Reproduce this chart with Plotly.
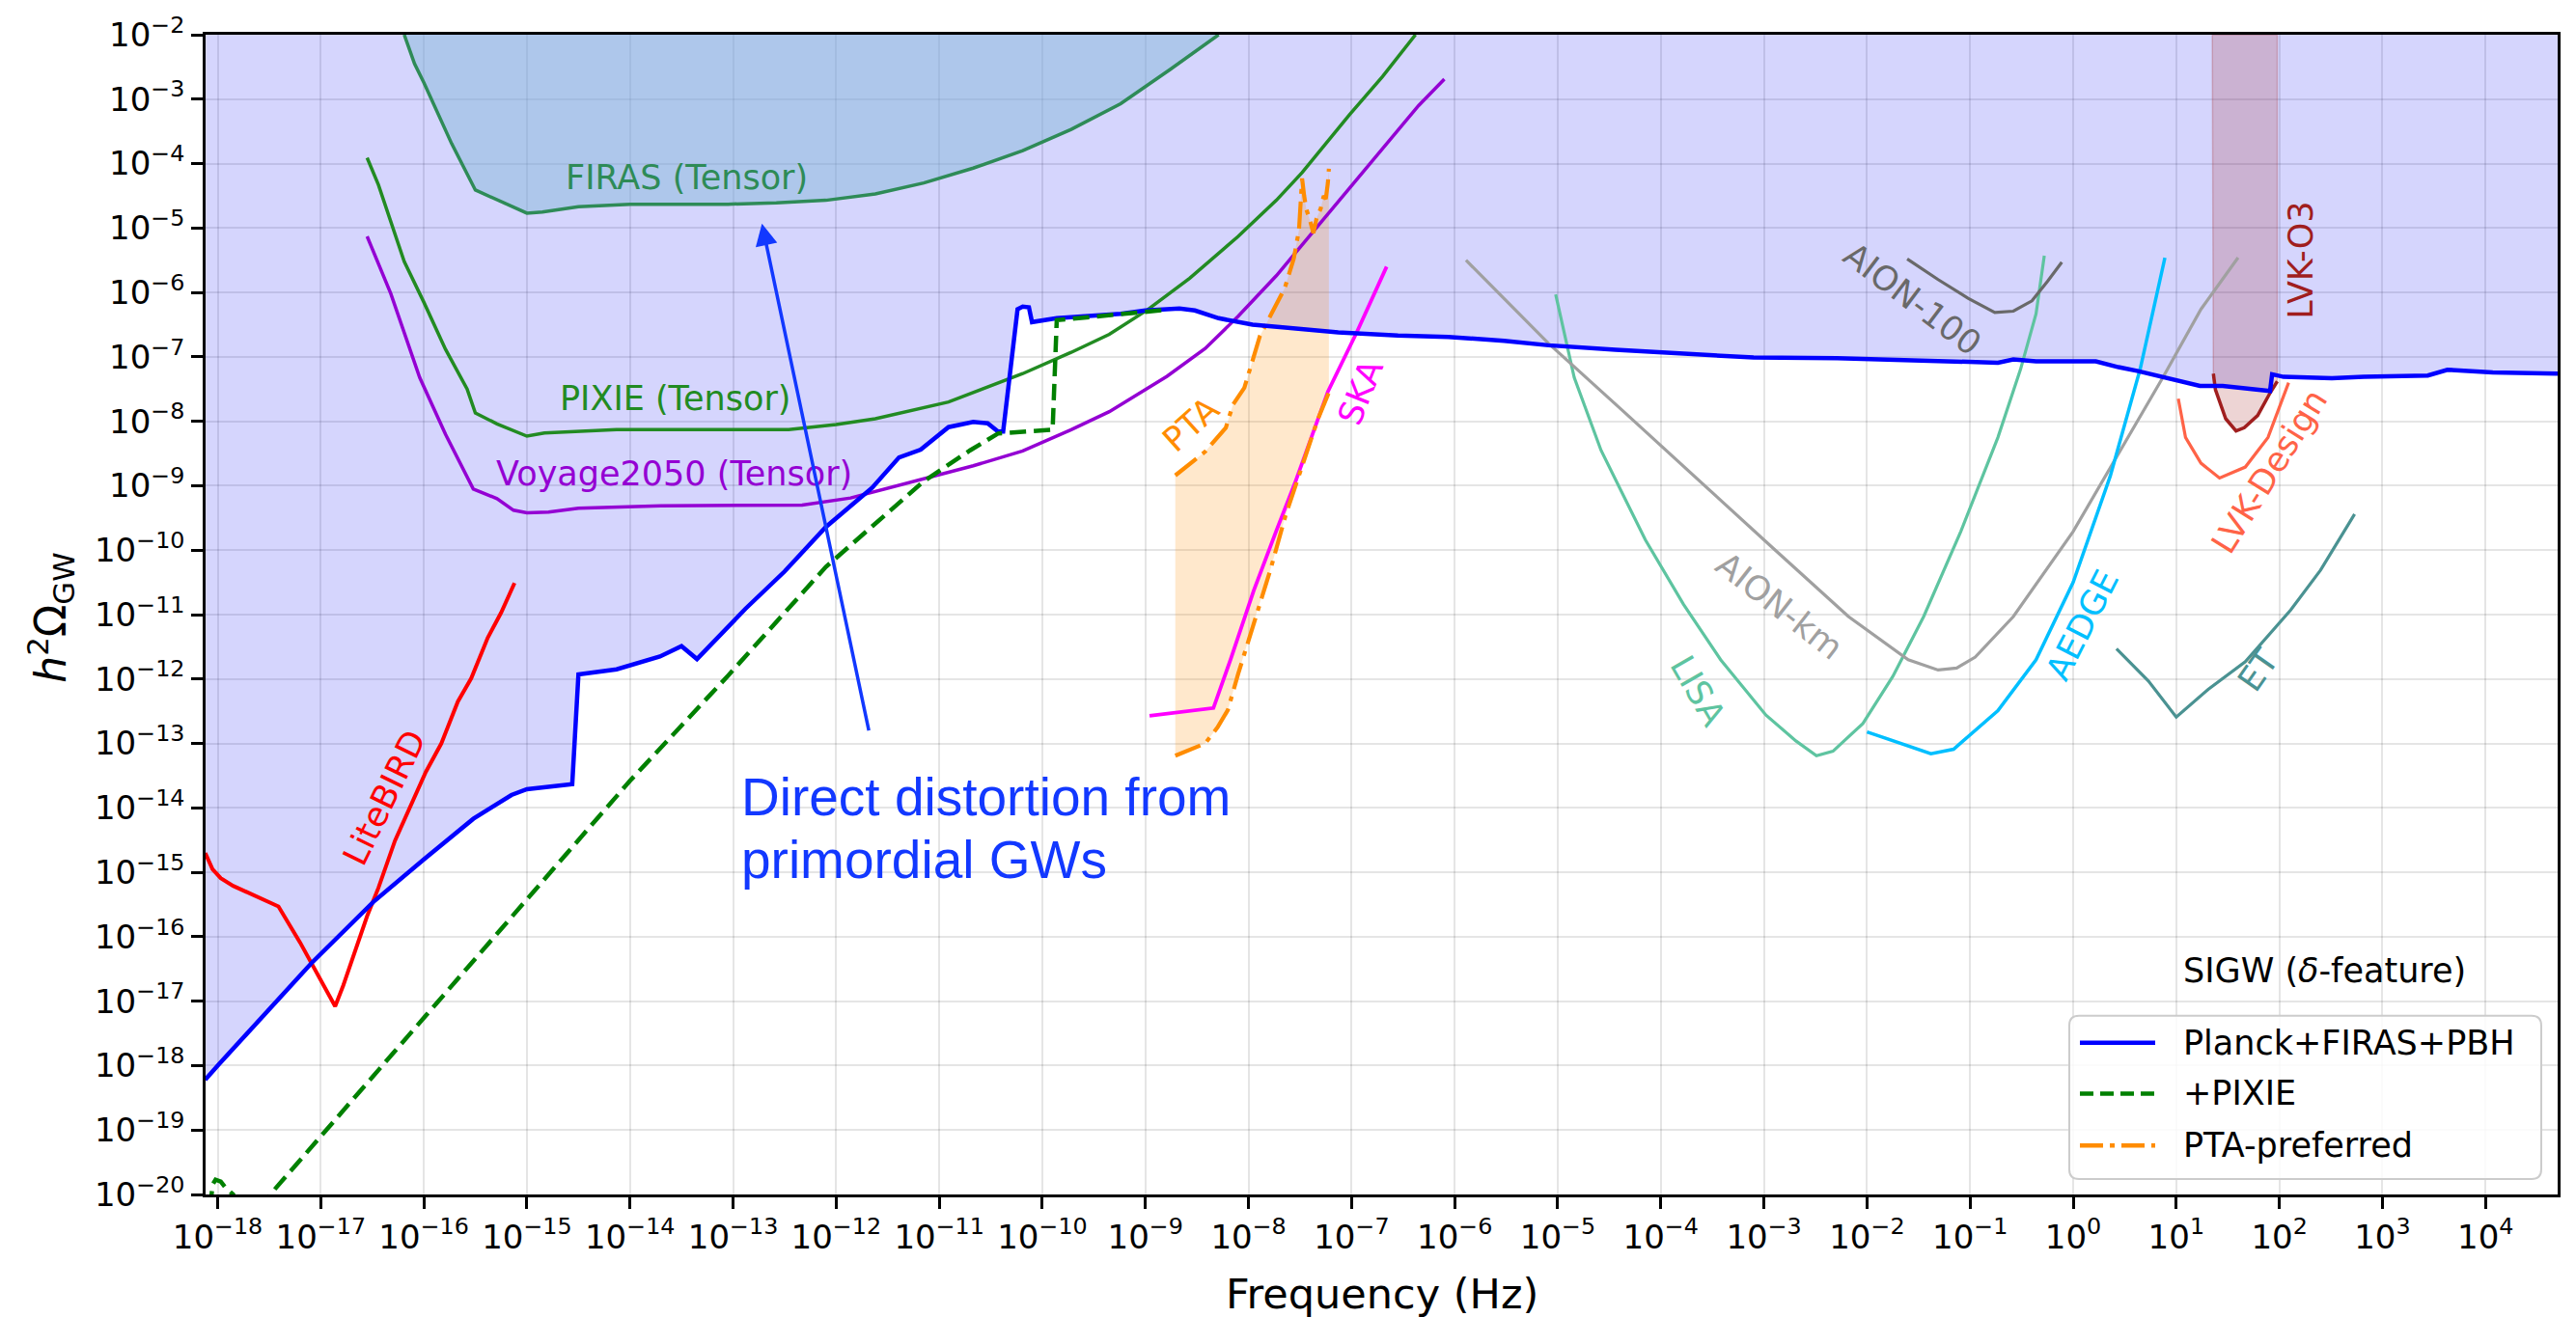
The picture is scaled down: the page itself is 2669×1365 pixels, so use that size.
import plotly.graph_objects as go

# ---------------- data (log10 of frequency [Hz] and of h^2 Omega_GW) ----------------
planck_logf = [-18.12, -18.0, -17.09, -16.49, -16.0, -15.52, -15.15, -15.0, -14.56, -14.50, -14.13, -13.71,
               -13.50, -13.35, -12.88, -12.50, -12.10, -11.65, -11.39, -11.18, -10.91, -10.67, -10.53, -10.43,
               -10.38, -10.24, -10.19, -10.13, -10.10, -10.05, -9.86, -9.24, -9.0, -8.67, -8.52, -8.29, -7.96,
               -7.67, -7.13, -6.55, -6.06, -5.52, -5.09, -4.44, -3.91, -3.10, -2.29, -1.45, -0.73, -0.58, -0.36,
               0.22, 0.44, 0.63, 0.94, 1.23, 1.45, 1.91, 1.93, 2.04, 2.51, 2.82, 3.44, 3.57, 3.63, 4.07, 4.70]
planck_logo = [-18.22, -18.0, -16.41, -15.46, -14.8, -14.17, -13.8, -13.71, -13.63, -11.93, -11.85, -11.65,
               -11.49, -11.69, -10.91, -10.33, -9.64, -9.03, -8.56, -8.44, -8.09, -8.01, -8.03, -8.16,
               -8.16, -6.26, -6.22, -6.23, -6.46, -6.45, -6.40, -6.33, -6.28, -6.25, -6.28, -6.40, -6.50,
               -6.54, -6.62, -6.67, -6.69, -6.75, -6.82, -6.89, -6.94, -7.01, -7.02, -7.06, -7.09, -7.04, -7.07,
               -7.07, -7.16, -7.22, -7.33, -7.45, -7.45, -7.53, -7.27, -7.31, -7.33, -7.31, -7.29, -7.24, -7.20,
               -7.24, -7.26]

pixie_sigw_logf = [-18.07, -18.05, -18.02, -17.97, -17.92, -17.85, -17.67, -17.49, -16.0, -15.0, -14.31, -14.0,
                   -13.05, -12.10, -11.15, -10.70, -10.43, -9.90, -9.86, -9.24, -8.80]
pixie_sigw_logo = [-20.2, -19.85, -19.77, -19.80, -19.9, -20.0, -20.6, -20.0, -17.26, -15.42, -14.15, -13.58,
                   -11.95, -10.26, -8.93, -8.45, -8.19, -8.13, -6.43, -6.33, -6.27]

pta_upper_logf = [-8.71, -8.42, -8.22, -8.15, -8.04, -7.89, -7.79, -7.65, -7.56, -7.51, -7.49, -7.48, -7.46,
                  -7.44, -7.40, -7.37, -7.34, -7.30, -7.27, -7.25, -7.23, -7.22]
pta_upper_logo = [-8.84, -8.47, -8.10, -7.74, -7.48, -6.68, -6.37, -5.94, -5.47, -5.03, -4.50, -4.23, -4.50,
                  -4.70, -4.90, -5.08, -4.85, -4.70, -4.50, -4.55, -4.30, -4.08]
pta_lower_logf = [-8.71, -8.42, -8.30, -8.20, -8.10, -7.95, -7.79, -7.64, -7.48, -7.33, -7.22]
pta_lower_logo = [-13.19, -13.0, -12.75, -12.48, -11.92, -11.12, -10.32, -9.46, -8.72, -7.98, -7.55]

firas_logf = [-16.19, -16.09, -16.0, -15.73, -15.5, -15.23, -15.0, -14.85, -14.5, -14.0, -13.5, -13.05,
              -12.58, -12.1, -11.62, -11.15, -10.67, -10.19, -9.72, -9.24, -8.76, -8.29]
firas_logo = [-2.0, -2.45, -2.74, -3.69, -4.41, -4.61, -4.77, -4.75, -4.67, -4.63, -4.63, -4.63,
              -4.61, -4.57, -4.47, -4.30, -4.07, -3.80, -3.47, -3.07, -2.54, -2.0]

pixie_logf = [-16.55, -16.44, -16.19, -16.0, -15.79, -15.58, -15.5, -15.29, -15.0, -14.83, -14.13, -13.5,
              -12.46, -12.0, -11.62, -10.91, -10.19, -9.72, -9.35, -8.98, -8.57, -8.10, -7.73, -7.48,
              -7.02, -6.70, -6.38]
pixie_logo = [-3.91, -4.33, -5.52, -6.15, -6.88, -7.5, -7.87, -8.04, -8.23, -8.18, -8.13, -8.13,
              -8.13, -8.05, -7.96, -7.70, -7.26, -6.93, -6.65, -6.27, -5.78, -5.13, -4.57, -4.14,
              -3.24, -2.65, -2.0]

voyage_logf = [-16.55, -16.32, -16.04, -15.79, -15.52, -15.29, -15.13, -15.0, -14.79, -14.5, -13.7, -12.33,
               -11.86, -11.15, -10.67, -10.19, -9.72, -9.35, -8.79, -8.42, -8.10, -7.73, -7.48, -7.15,
               -6.67, -6.35, -6.10]
voyage_logo = [-5.13, -6.02, -7.32, -8.2, -9.05, -9.2, -9.38, -9.42, -9.41, -9.35, -9.31, -9.30,
               -9.19, -8.89, -8.69, -8.46, -8.13, -7.85, -7.30, -6.87, -6.37, -5.74, -5.26, -4.64,
               -3.72, -3.1, -2.69]

litebird_logf = [-18.12, -18.05, -17.97, -17.85, -17.41, -17.20, -16.86, -16.78, -16.55, -16.44, -16.28,
                 -16.13, -15.98, -15.83, -15.67, -15.54, -15.38, -15.25, -15.12]
litebird_logo = [-14.70, -14.95, -15.09, -15.21, -15.53, -16.09, -17.08, -16.75, -15.68, -15.24, -14.51,
                 -13.98, -13.44, -13.0, -12.35, -11.99, -11.36, -10.97, -10.51]

ska_logf = [-8.96, -8.34, -8.17, -7.95, -7.73, -7.55, -7.23, -6.95, -6.66]
ska_logo = [-12.57, -12.45, -11.68, -10.63, -9.70, -8.96, -7.54, -6.62, -5.60]

lisa_logf = [-5.02, -4.84, -4.58, -4.15, -3.78, -3.42, -2.98, -2.69, -2.49, -2.33, -2.04, -1.75, -1.45,
             -1.09, -0.73, -0.51, -0.36, -0.28]
lisa_logo = [-6.03, -7.32, -8.45, -9.84, -10.84, -11.70, -12.56, -12.96, -13.19, -13.12, -12.69, -11.96,
             -11.03, -9.71, -8.25, -7.19, -6.33, -5.43]

aionkm_logf = [-5.89, -5.09, -4.36, -3.64, -2.91, -2.18, -1.60, -1.31, -1.13, -0.95, -0.58, 0.0, 0.44,
               0.87, 1.24, 1.60]
aionkm_logo = [-5.50, -6.79, -7.85, -8.91, -9.97, -11.03, -11.70, -11.86, -11.83, -11.66, -11.03, -9.71,
               -8.51, -7.32, -6.26, -5.46]

aion100_logf = [-1.61, -1.31, -1.02, -0.76, -0.58, -0.40, -0.25, -0.11]
aion100_logo = [-5.48, -5.80, -6.09, -6.31, -6.29, -6.13, -5.83, -5.53]

aedge_logf = [-2.0, -1.38, -1.16, -0.73, -0.36, 0.0, 0.36, 0.65, 0.89]
aedge_logo = [-12.82, -13.16, -13.09, -12.49, -11.70, -10.50, -8.85, -7.19, -5.46]

et_logf = [0.42, 0.73, 1.0, 1.31, 1.67, 2.11, 2.40, 2.73]
et_logo = [-11.53, -12.03, -12.59, -12.16, -11.73, -10.93, -10.31, -9.44]

lvkdesign_logf = [1.02, 1.09, 1.24, 1.42, 1.67, 1.89, 2.09]
lvkdesign_logo = [-7.65, -8.25, -8.65, -8.88, -8.71, -8.25, -7.40]

lvko3_logf = [1.36, 1.38, 1.48, 1.58, 1.66, 1.79, 1.91, 1.98]
lvko3_logo = [-7.26, -7.51, -7.96, -8.15, -8.10, -7.91, -7.56, -7.38]
lvko3_band_logf = [1.35, 1.98]

x_tick_exps = list(range(-18, 5))
y_tick_exps = list(range(-20, -1))

legend_labels = ["Planck+FIRAS+PBH", "+PIXIE", "PTA-preferred"]

# ---------------- helpers ----------------
def P(v):
    return [10.0 ** t for t in v]

def sup(k):
    return "10<sup>" + (("\u2212" + str(-k)) if k < 0 else str(k)) + "</sup>"

X0, X1 = -18.117, 4.70
Y0, Y1 = -20.0, -2.0

FONT = "DejaVu Sans"
BLUE = "#0000ff"
ANN_BLUE = "#1238ff"
LISA_C = "#5ec4a0"
ET_C = "#4a9292"
AIONKM_C = "#a0a0a0"
LVKO3_C = "#a01e1e"

fig = go.Figure()

def add_line(xs, ys, color, width, dash=None):
    fig.add_trace(go.Scatter(x=P(xs), y=P(ys), mode="lines",
                             line=dict(color=color, width=width, dash=dash),
                             hoverinfo="skip", showlegend=False))

def add_fill(xs, ys, fillcolor, line=None):
    fig.add_trace(go.Scatter(x=P(xs), y=P(ys), mode="lines", fill="toself", fillcolor=fillcolor,
                             line=line if line else dict(width=0),
                             hoverinfo="skip", showlegend=False))

# excluded region above Planck+FIRAS+PBH
add_fill(planck_logf + [X1, X0], planck_logo + [Y1, Y1], "rgba(0,0,240,0.165)")
# FIRAS tensor region
add_fill(firas_logf, firas_logo, "rgba(135,185,217,0.5)")
# PTA preferred band
add_fill(pta_upper_logf + pta_lower_logf[::-1], pta_upper_logo + pta_lower_logo[::-1],
         "rgba(255,140,0,0.2)")
# LVK-O3 excluded band
add_fill([lvko3_band_logf[0]] + lvko3_logf + [lvko3_band_logf[1], lvko3_band_logf[1], lvko3_band_logf[0]],
         [Y1] + lvko3_logo + [lvko3_logo[-1], Y1, Y1],
         "rgba(165,42,42,0.2)", line=dict(color="rgba(165,42,42,0.25)", width=1.5))

# tensor / detector curves
add_line(firas_logf, firas_logo, "seagreen", 3.5)
add_line(pixie_logf, pixie_logo, "forestgreen", 3.5)
add_line(voyage_logf, voyage_logo, "darkviolet", 3.5)
add_line(litebird_logf, litebird_logo, "red", 4)
add_line(lisa_logf, lisa_logo, LISA_C, 3.2)
add_line(aionkm_logf, aionkm_logo, AIONKM_C, 3.2)
add_line(aion100_logf, aion100_logo, "dimgray", 3.2)
add_line(aedge_logf, aedge_logo, "deepskyblue", 3.5)
add_line(et_logf, et_logo, ET_C, 3.2)
add_line(lvkdesign_logf, lvkdesign_logo, "tomato", 3.2)
add_line(lvko3_logf, lvko3_logo, LVKO3_C, 3.5)
add_line(ska_logf, ska_logo, "magenta", 3.8)
add_line(pta_upper_logf, pta_upper_logo, "darkorange", 4.2, "28px,8px,5px,8px")
add_line(pta_lower_logf, pta_lower_logo, "darkorange", 4.2, "28px,8px,5px,8px")
# SIGW constraints
add_line(planck_logf, planck_logo, BLUE, 4.5)
add_line(pixie_sigw_logf, pixie_sigw_logo, "green", 4.5, "17px,8px")

# ---------------- annotations ----------------
label_specs = [
    ("FIRAS (Tensor)", -13.45, -4.21, 0, "seagreen"),
    ("PIXIE (Tensor)", -13.56, -7.65, 0, "forestgreen"),
    ("Voyage2050 (Tensor)", -13.57, -8.82, 0, "darkviolet"),
    ("LiteBIRD", -16.38, -13.85, -64, "red"),
    ("PTA", -8.56, -8.05, -42, "darkorange"),
    ("SKA", -6.91, -7.54, -68, "magenta"),
    ("AION-100", -1.56, -6.10, 37, "dimgray"),
    ("AION-km", -2.85, -10.87, 38, AIONKM_C),
    ("LISA", -3.64, -12.18, 60, LISA_C),
    ("AEDGE", 0.09, -11.17, -63, "deepskyblue"),
    ("ET", 1.80, -11.86, -55, ET_C),
    ("LVK-Design", 1.90, -8.78, -58, "tomato"),
    ("LVK-O3", 2.21, -5.50, -90, LVKO3_C),
]
annotations = []
for text, lx, ly, ang, col in label_specs:
    annotations.append(dict(text=text, x=lx, y=ly, xref="x", yref="y", showarrow=False,
                            textangle=ang, xanchor="center", yanchor="middle",
                            font=dict(family=FONT, size=35, color=col)))

# "Direct distortion" note with arrow
annotations.append(dict(text="Direct distortion from", x=-12.94, y=-13.83, xref="x", yref="y",
                        showarrow=False, xanchor="left", yanchor="middle",
                        font=dict(family="Liberation Sans", size=55, color=ANN_BLUE)))
annotations.append(dict(text="primordial GWs", x=-12.94, y=-14.81, xref="x", yref="y",
                        showarrow=False, xanchor="left", yanchor="middle",
                        font=dict(family="Liberation Sans", size=55, color=ANN_BLUE)))
annotations.append(dict(text="", x=-12.72, y=-4.93, xref="x", yref="y", ax=-11.68, ay=-12.82,
                        axref="x", ayref="y", showarrow=True, arrowhead=2, arrowsize=1.3,
                        arrowwidth=3.5, arrowcolor=ANN_BLUE, standoff=0))

# axis titles
annotations.append(dict(text="Frequency (Hz)", x=0.5, y=-0.0853, xref="paper", yref="paper",
                        showarrow=False, xanchor="center", yanchor="middle",
                        font=dict(family=FONT, size=43, color="black")))
annotations.append(dict(text="<i>h</i><sup>2</sup>\u03a9<sub>GW</sub>", x=-0.066, y=0.497,
                        xref="paper", yref="paper", showarrow=False, textangle=-90,
                        xanchor="center", yanchor="middle",
                        font=dict(family=FONT, size=44, color="black")))

# SIGW title above legend
annotations.append(dict(text="SIGW (<i>\u03b4</i>-feature)", x=0.9007, y=0.1930, xref="paper", yref="paper",
                        showarrow=False, xanchor="center", yanchor="middle",
                        font=dict(family=FONT, size=35, color="black")))

# manual legend
lg_x0, lg_x1, lg_y0, lg_y1 = 0.79237, 0.99302, 0.01326, 0.15410
rx, ry = 0.0041, 0.0083
box_path = (f"M {lg_x0+rx},{lg_y0} L {lg_x1-rx},{lg_y0} Q {lg_x1},{lg_y0} {lg_x1},{lg_y0+ry} "
            f"L {lg_x1},{lg_y1-ry} Q {lg_x1},{lg_y1} {lg_x1-rx},{lg_y1} L {lg_x0+rx},{lg_y1} "
            f"Q {lg_x0},{lg_y1} {lg_x0},{lg_y1-ry} L {lg_x0},{lg_y0+ry} Q {lg_x0},{lg_y0} {lg_x0+rx},{lg_y0} Z")
shapes = [dict(type="path", xref="paper", yref="paper", path=box_path,
               line=dict(color="#cccccc", width=2), fillcolor="rgba(255,255,255,0.85)", layer="above")]
legend_rows_y = [0.13090, 0.08699, 0.04226]
legend_styles = [(BLUE, None), ("green", "14px,7px"), ("darkorange", "24px,7px,5px,7px")]
for (col, dsh), yy, lab in zip(legend_styles, legend_rows_y, legend_labels):
    shapes.append(dict(type="line", xref="paper", yref="paper", x0=0.79688, x1=0.82889, y0=yy, y1=yy,
                       line=dict(color=col, width=4.5, dash=dsh), layer="above"))
    annotations.append(dict(text=lab, x=0.83997, y=yy, xref="paper", yref="paper", showarrow=False,
                            xanchor="left", yanchor="middle",
                            font=dict(family=FONT, size=35, color="black")))

axis_common = dict(type="log", showgrid=True, gridcolor="rgba(0,0,0,0.1)", gridwidth=2,
                   ticks="outside", ticklen=12, tickwidth=2.5, tickcolor="black",
                   showline=True, linecolor="black", linewidth=2.5, mirror=True, zeroline=False,
                   tickfont=dict(family=FONT, size=34, color="black"))

fig.update_layout(
    width=2669, height=1365, autosize=False,
    margin=dict(l=213, r=19, t=31, b=127),
    paper_bgcolor="white", plot_bgcolor="white",
    font=dict(family=FONT, color="black"),
    showlegend=False,
    xaxis=dict(range=[X0, X1], tickmode="array", tickvals=[10.0 ** k for k in x_tick_exps],
               ticktext=[sup(k) for k in x_tick_exps], **axis_common),
    yaxis=dict(range=[Y0, Y1], tickmode="array", tickvals=[10.0 ** k for k in y_tick_exps],
               ticktext=[sup(k) for k in y_tick_exps], **axis_common),
    annotations=annotations,
    shapes=shapes,
)

fig.write_html("out.html")
